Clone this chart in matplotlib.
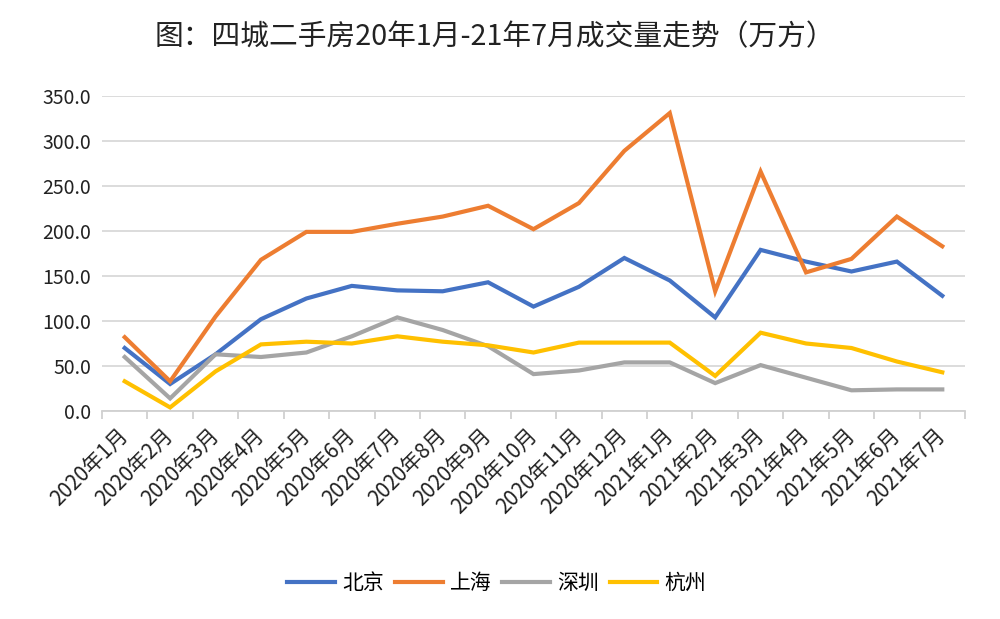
import numpy as np
import matplotlib
matplotlib.use("Agg")
import matplotlib.pyplot as plt
from matplotlib.ticker import FixedLocator, FormatStrFormatter

plt.rcParams['font.family'] = ['Noto Sans CJK SC', 'DejaVu Sans']

months = ["2020年1月", "2020年2月", "2020年3月", "2020年4月", "2020年5月", "2020年6月",
          "2020年7月", "2020年8月", "2020年9月", "2020年10月", "2020年11月", "2020年12月",
          "2021年1月", "2021年2月", "2021年3月", "2021年4月", "2021年5月", "2021年6月",
          "2021年7月"]
beijing = [70, 30, 63, 102, 125, 139, 134, 133, 143, 116, 138, 170,
           145, 104, 179, 166, 155, 166, 128]
shanghai = [82, 33, 105, 168, 199, 199, 208, 216, 228, 202, 231, 289,
            331, 133, 266, 154, 169, 216, 183]
shenzhen = [60, 14, 63, 60, 65, 83, 104, 90, 72, 41, 45, 54,
            54, 31, 51, 37, 23, 24, 24]
hangzhou = [33, 4, 44, 74, 77, 75, 83, 77, 73, 65, 76, 76,
            76, 39, 87, 75, 70, 55, 43]

series = [("北京", beijing, "#4472C4"),
          ("上海", shanghai, "#ED7D31"),
          ("深圳", shenzhen, "#A5A5A5"),
          ("杭州", hangzhou, "#FFC000")]

fig = plt.figure(figsize=(10, 6.19), dpi=100)
ax = fig.add_axes([0.102, 0.336, 0.863, 0.509])

x = np.arange(len(months))
for name, vals, col in series:
    ax.plot(x, vals, color=col, lw=3.0, label=name, solid_joinstyle='miter')

ax.set_xlim(-0.5, len(months) - 0.5)
ax.set_ylim(0, 350)
ax.set_yticks(np.arange(0, 351, 50))
ax.yaxis.set_major_formatter(FormatStrFormatter('%.1f'))
ax.grid(axis='y', color='#D9D9D9', lw=1.3)
ax.set_axisbelow(True)

ax.set_xticks(x)
ax.set_xticklabels(months, rotation=45, ha='right', va='center',
                   rotation_mode='anchor', fontsize=15)
ax.xaxis.set_minor_locator(FixedLocator(np.arange(-0.5, len(months), 1)))
ax.tick_params(axis='x', which='major', length=0, pad=15)
ax.tick_params(axis='x', which='minor', length=6, color='#D0D0D0', width=1.3)
ax.tick_params(axis='y', length=0, labelsize=14, pad=8)
for lab in ax.get_xticklabels() + ax.get_yticklabels():
    lab.set_color('#222222')

for s in ['top', 'right', 'left']:
    ax.spines[s].set_visible(False)
ax.spines['bottom'].set_color('#D0D0D0')
ax.spines['bottom'].set_linewidth(1.3)

fig.text(0.495, 0.94, "图：四城二手房20年1月-21年7月成交量走势（万方）",
         ha='center', va='center', fontsize=20.7, color='#222222')

fig.legend(loc='center', bbox_to_anchor=(0.497, 0.058), ncol=4, frameon=False,
           fontsize=15, handlelength=2.3, handletextpad=0.35, columnspacing=0.5)

fig.savefig("out.png", dpi=100)
